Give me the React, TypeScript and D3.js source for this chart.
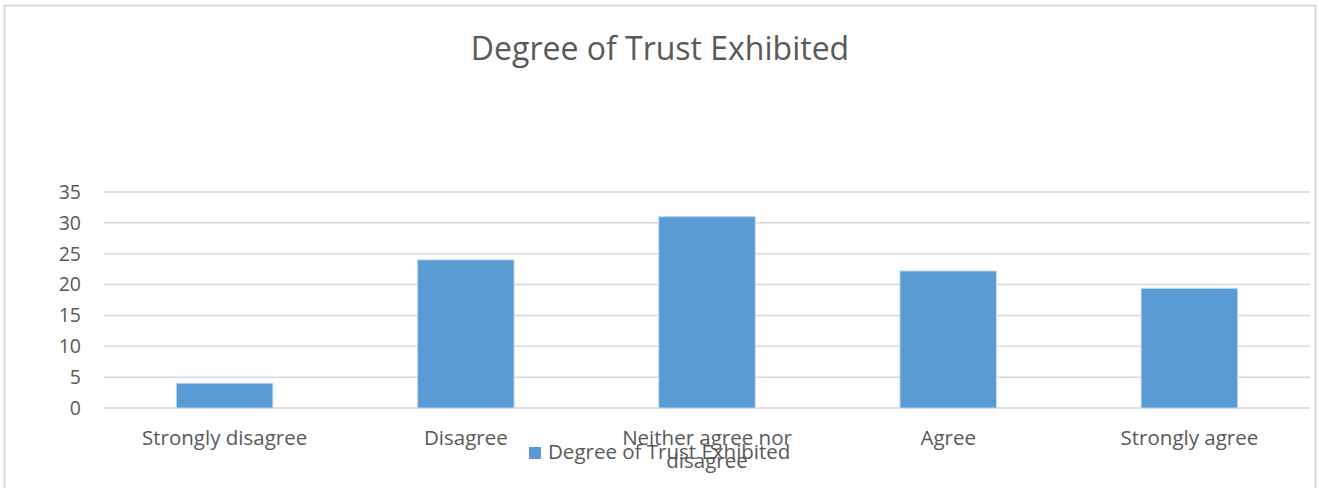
import * as React from 'react';
import * as d3 from 'd3';

const categories = ['Strongly disagree', 'Disagree', 'Neither agree nor disagree', 'Agree', 'Strongly agree'];
const values = [4, 24, 31, 22.2, 19.4];
const yTicks = [0, 5, 10, 15, 20, 25, 30, 35];
const seriesName = 'Degree of Trust Exhibited';
const title = 'Degree of Trust Exhibited';

const W = 1319;
const H = 488;
const FONT = '"Open Sans", "Noto Sans", sans-serif';
const TEXT = '#595959';

export default function App() {
  const ref = React.useRef<SVGSVGElement | null>(null);

  React.useEffect(() => {
    if (!ref.current) return;
    const svg = d3.select(ref.current);
    svg.selectAll('*').remove();

    const margin = { left: 104, right: 9 };
    const x = d3
      .scaleBand<string>()
      .domain(categories)
      .range([margin.left, W - margin.right])
      .paddingInner(0.6)
      .paddingOuter(0.3);
    const y = d3.scaleLinear().domain([0, 35]).range([408, 192]);

    // chart border
    svg
      .append('rect')
      .attr('x', 4.5)
      .attr('y', 5.5)
      .attr('width', 1311)
      .attr('height', 500)
      .attr('fill', '#fff')
      .attr('stroke', '#d9d9d9')
      .attr('stroke-width', 2);

    svg
      .append('text')
      .attr('x', 660)
      .attr('y', 60)
      .attr('text-anchor', 'middle')
      .attr('font-size', 32)
      .attr('fill', TEXT)
      .text(title);

    // gridlines
    svg
      .append('g')
      .selectAll('line')
      .data(yTicks)
      .join('line')
      .attr('x1', margin.left)
      .attr('x2', W - margin.right)
      .attr('y1', (d) => y(d))
      .attr('y2', (d) => y(d))
      .attr('stroke', '#d9d9d9')
      .attr('stroke-width', 1.5);

    svg
      .append('g')
      .selectAll('text')
      .data(yTicks)
      .join('text')
      .attr('x', 81)
      .attr('y', (d) => y(d))
      .attr('dy', '0.35em')
      .attr('text-anchor', 'end')
      .attr('font-size', 19.5)
      .attr('fill', TEXT)
      .text((d) => d);

    svg
      .append('g')
      .selectAll('rect')
      .data(values)
      .join('rect')
      .attr('x', (_, i) => x(categories[i])!)
      .attr('width', x.bandwidth())
      .attr('y', (d) => y(d))
      .attr('height', (d) => y(0) - y(d))
      .attr('fill', '#5b9bd5')
      .attr('stroke', '#bdd7ee')
      .attr('stroke-width', 1);

    // category labels (wrap long ones like Excel)
    categories.forEach((c) => {
      const cx = x(c)! + x.bandwidth() / 2;
      const lines = c.length > 20 ? ['Neither agree nor', 'disagree'] : [c];
      const t = svg
        .append('text')
        .attr('text-anchor', 'middle')
        .attr('font-size', 20.5)
        .attr('fill', TEXT);
      lines.forEach((ln, i) => {
        t.append('tspan').attr('x', cx).attr('y', 445 + i * 23).text(ln);
      });
    });

    // legend
    const lg = svg.append('g').attr('transform', 'translate(529,447)');
    lg.append('rect').attr('width', 12).attr('height', 12).attr('fill', '#5b9bd5');
    lg.append('text')
      .attr('x', 19)
      .attr('y', 12)
      .attr('font-size', 20.5)
      .attr('fill', TEXT)
      .text(seriesName);
  }, []);

  return (
    <svg
      ref={ref}
      width={W}
      height={H}
      style={{ position: 'absolute', left: 0, top: 0, fontFamily: FONT }}
    />
  );
}
